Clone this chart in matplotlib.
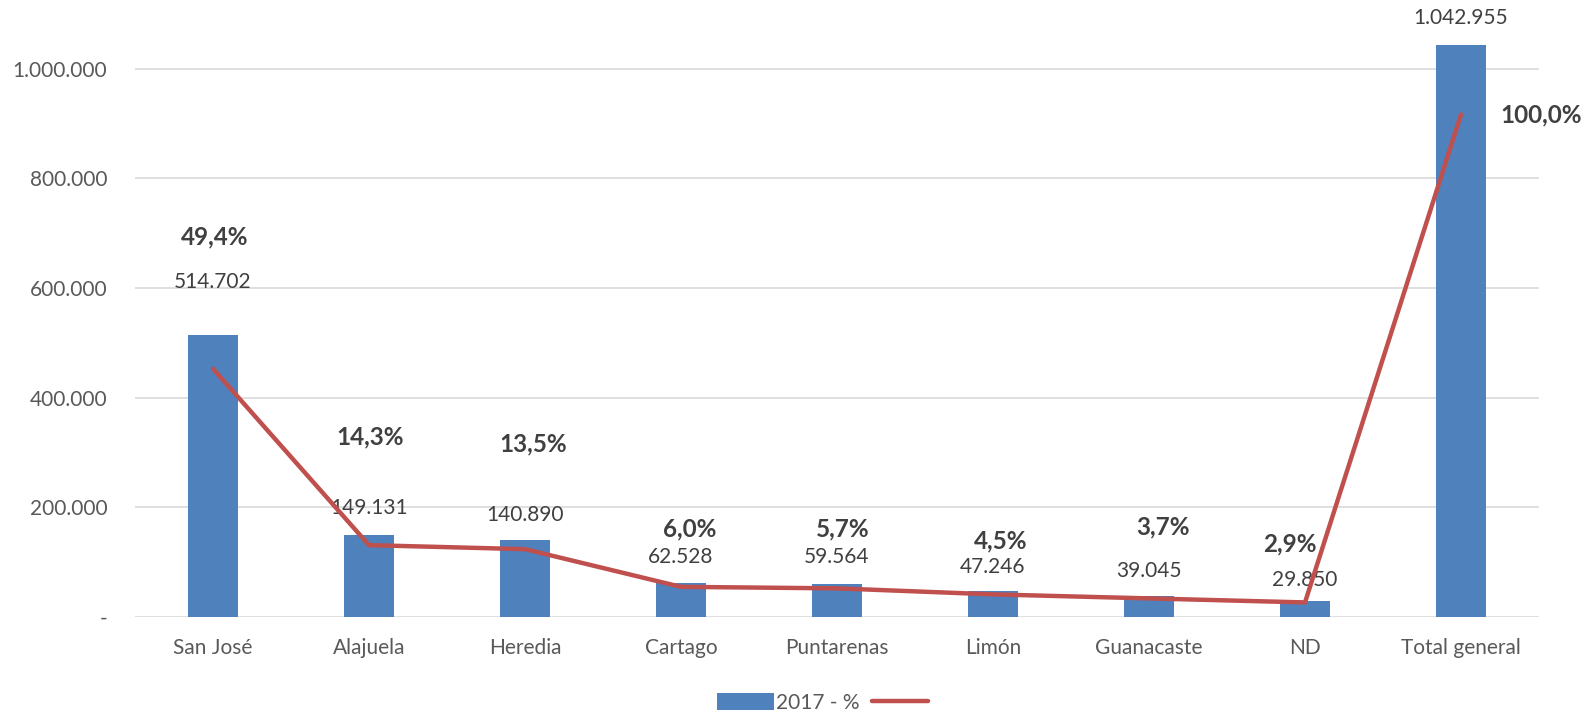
import matplotlib.pyplot as plt
from matplotlib.ticker import FuncFormatter

provincias = ['San José', 'Alajuela', 'Heredia', 'Cartago', 'Puntarenas',
              'Limón', 'Guanacaste', 'ND', 'Total general']
valores = [514702, 149131, 140890, 62528, 59564, 47246, 39045, 29850, 1042955]
porcentajes = [49.4, 14.3, 13.5, 6.0, 5.7, 4.5, 3.7, 2.9, 100.0]

# label offsets in pixels (dx, dy) - hand placed like in the original
off_val = [(0, 53), (0, 27), (0, 25), (0, 26), (0, 27), (0, 24), (0, 25), (0, 21), (0, 27)]
off_pct = [(2, 132), (1, 108), (8, 105), (9, 58), (6, 59), (8, 53), (14, 71), (-15, 59), (80, 0)]

plt.rcParams['font.family'] = ['Lato', 'DejaVu Sans']
fs = 15

fig = plt.figure(figsize=(15.84, 7.15), dpi=100)
ax = fig.add_axes([135 / 1584, 1 - 617 / 715, 1404 / 1584, 603 / 715])

x = range(len(provincias))
bars = ax.bar(x, valores, width=0.32, color='#4f81bd', label='2017 - %', zorder=2)
ax.set_ylim(0, 1100000)
ax.set_xlim(-0.5, len(provincias) - 0.5)
ax.set_yticks([0, 200000, 400000, 600000, 800000, 1000000])
ax.yaxis.set_major_formatter(FuncFormatter(
    lambda v, p: '-' if v == 0 else f'{int(v):,}'.replace(',', '.')))
ax.set_xticks(list(x))
ax.set_xticklabels(provincias)
ax.grid(axis='y', color='#d9d9d9', lw=1.2, zorder=0)
for s in ax.spines.values():
    s.set_visible(False)
ax.tick_params(length=0, colors='#595959', labelsize=fs)
ax.tick_params(axis='x', pad=15)
ax.tick_params(axis='y', pad=20)

for i, v in enumerate(valores):
    ax.annotate(f'{v:,}'.replace(',', '.'), (i, v), xytext=off_val[i],
                textcoords='offset pixels', ha='center', va='center',
                fontsize=fs, color='#404040')

ax2 = ax.twinx()
ax2.set_ylim(0, 1.2)
ax2.axis('off')
pct = [p / 100 for p in porcentajes]
line, = ax2.plot(list(x), pct, color='#c0504d', lw=3.2, solid_capstyle='round', zorder=3)

for i, p in enumerate(porcentajes):
    ax2.annotate(f'{p:.1f}%'.replace('.', ','), (i, pct[i]), xytext=off_pct[i],
                 textcoords='offset pixels', ha='center', va='center',
                 fontsize=17.5, fontweight='bold', color='#404040')

fig.legend([bars, line], ['2017 - %', ''], loc='center', bbox_to_anchor=(0.52, 0.017),
           ncol=2, frameon=False, fontsize=fs, labelcolor='#595959',
           handlelength=2.7, handleheight=0.9, columnspacing=0.6, handletextpad=0.1)

fig.savefig('out.png', dpi=100)
